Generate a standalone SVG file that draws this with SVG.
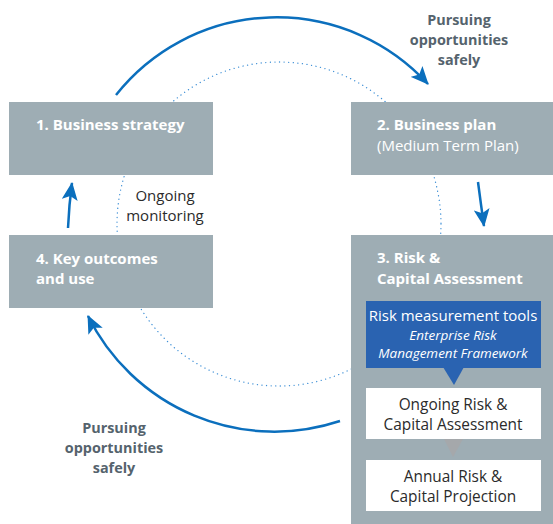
<svg xmlns="http://www.w3.org/2000/svg" width="553" height="524" viewBox="0 0 553 524">
<defs>
<style>
.box{fill:#9eadb4}
.t{font-family:"Open Sans","Noto Sans","Liberation Sans",sans-serif}
.wb{fill:#ffffff;font-weight:bold;font-size:15px}
.wn{fill:#ffffff;font-size:15px}
.wi{fill:#ffffff;font-size:13.5px;font-style:italic}
.dk{fill:#2b2b2b;font-size:15px}
.wd{fill:#2b2b2b;font-size:15.4px}
.pur{fill:#55636d;font-weight:bold;font-size:14.4px}
.arr{fill:none;stroke:#0b6fbd;stroke-width:2.5}
.dot{fill:none;stroke:#3d8fd6;stroke-width:1.3;stroke-dasharray:0.1 4.5;stroke-linecap:round}
</style>
<marker id="ah" viewBox="0 0 18 16" refX="17" refY="8" markerWidth="18" markerHeight="16" markerUnits="userSpaceOnUse" orient="auto">
<path d="M0,0 L18,8 L0,16 L4,8 z" fill="#0b6fbd"/>
</marker>
</defs>
<rect width="553" height="524" fill="#ffffff"/>
<g id="connectors">
<circle class="dot" cx="279" cy="224" r="162"/>
<path class="arr" d="M116,95 A205,205 0 0 1 428,84" marker-end="url(#ah)"/>
<path class="arr" d="M340,421 A208,208 0 0 1 88,316" marker-end="url(#ah)"/>
<path class="arr" d="M68,228 Q69,205 72,183" marker-end="url(#ah)"/>
<path class="arr" d="M478,182 Q481,205 484,226" marker-end="url(#ah)"/>
</g>
<g id="node1">
<rect class="box" x="9" y="102" width="204" height="73"/>
<text class="t wb" x="36" y="130">1. Business strategy</text>
</g>
<g id="node2">
<rect class="box" x="351" y="102" width="202" height="73"/>
<text class="t wb" x="377" y="130">2. Business plan</text>
<text class="t wn" x="377" y="151">(Medium Term Plan)</text>
</g>
<g id="node4">
<rect class="box" x="9" y="235" width="204" height="73"/>
<text class="t wb" x="36" y="264">4. Key outcomes</text>
<text class="t wb" x="36" y="284">and use</text>
</g>
<g id="node3">
<rect class="box" x="351" y="235" width="202" height="289"/>
<text class="t wb" x="377" y="263">3. Risk &amp;</text>
<text class="t wb" x="377" y="284">Capital Assessment</text>
</g>
<g id="tools">
<rect x="366" y="301" width="175" height="67" fill="#2a63b1"/>
<path d="M443,367 L464,367 L454,385 z" fill="#2a63b1"/>
<text class="t wn" x="453" y="321" text-anchor="middle">Risk measurement tools</text>
<text class="t wi" x="453" y="340" text-anchor="middle">Enterprise Risk</text>
<text class="t wi" x="453" y="358" text-anchor="middle">Management Framework</text>
</g>
<g id="ongoing">
<rect x="366" y="388" width="175" height="51" fill="#ffffff"/>
<path d="M444,439 L463,439 L453,457 z" fill="#a5a8ab"/>
<text class="t wd" x="453" y="410" text-anchor="middle">Ongoing Risk &amp;</text>
<text class="t wd" x="453" y="430" text-anchor="middle">Capital Assessment</text>
</g>
<g id="annual">
<rect x="366" y="460" width="175" height="51" fill="#ffffff"/>
<text class="t wd" x="453" y="482" text-anchor="middle">Annual Risk &amp;</text>
<text class="t wd" x="453" y="502" text-anchor="middle">Capital Projection</text>
</g>
<g id="labels">
<text class="t dk" x="165" y="201" text-anchor="middle">Ongoing</text>
<text class="t dk" x="165" y="221" text-anchor="middle">monitoring</text>
<text class="t pur" x="459" y="25" text-anchor="middle">Pursuing</text>
<text class="t pur" x="459" y="45" text-anchor="middle">opportunities</text>
<text class="t pur" x="459" y="65" text-anchor="middle">safely</text>
<text class="t pur" x="114" y="433" text-anchor="middle">Pursuing</text>
<text class="t pur" x="114" y="453" text-anchor="middle">opportunities</text>
<text class="t pur" x="114" y="473" text-anchor="middle">safely</text>
</g>
</svg>
